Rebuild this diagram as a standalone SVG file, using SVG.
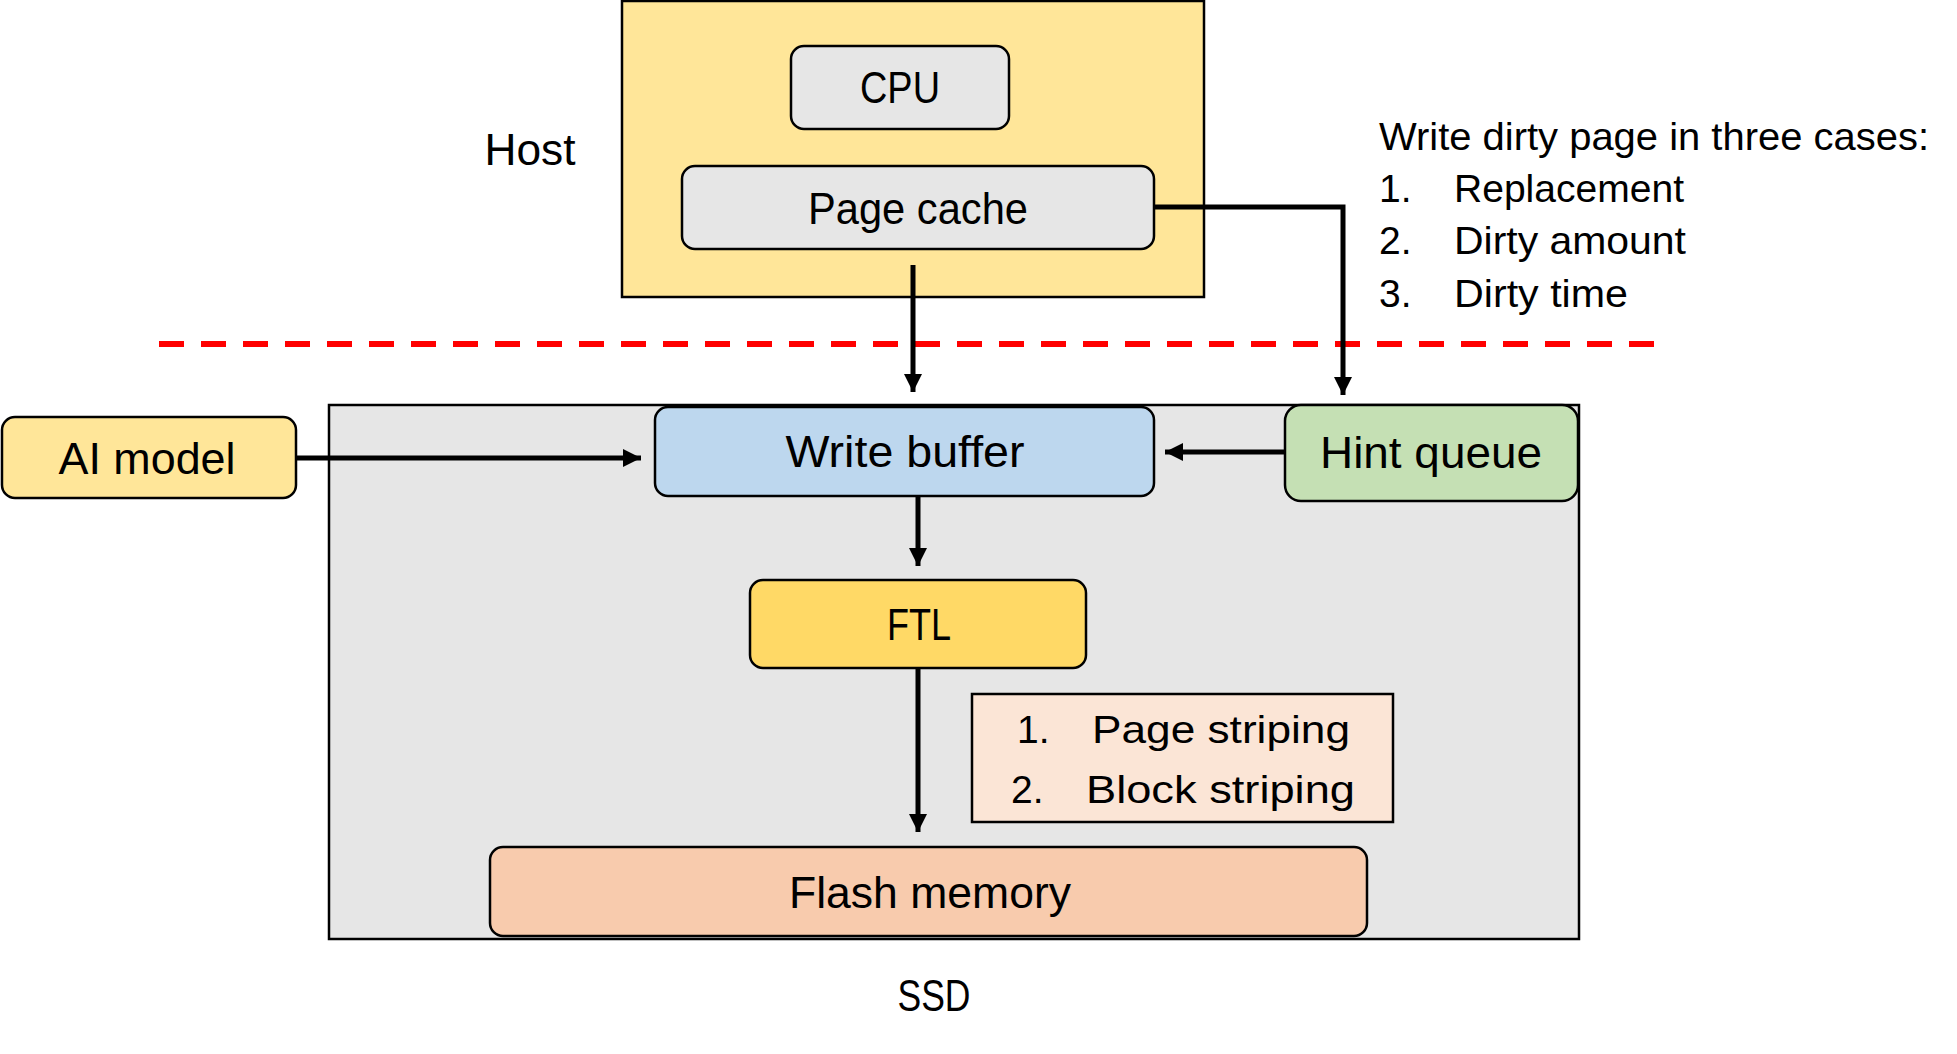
<svg xmlns="http://www.w3.org/2000/svg" width="1957" height="1054" viewBox="0 0 1957 1054">
<style>
text{font-family:"Liberation Sans",Arial,sans-serif;fill:#000;}
.box{stroke:#000;stroke-width:2.5;}
.lbl{font-size:44px;text-anchor:middle;}
.note{font-size:39px;}
.conn{stroke:#000;stroke-width:5;fill:none;}
</style>
<defs>
<marker id="arr" viewBox="0 0 18 18" refX="18" refY="9" markerWidth="18" markerHeight="18" markerUnits="userSpaceOnUse" orient="auto">
<path d="M0,0 L18,9 L0,18 z" fill="#000"/>
</marker>
</defs>
<rect width="1957" height="1054" fill="#fff"/>

<g id="host">
<rect class="box" x="622" y="1" width="582" height="296" fill="#FFE699"/>
<text class="lbl" x="530" y="165" textLength="91" lengthAdjust="spacingAndGlyphs">Host</text>
</g>
<g id="cpu">
<rect class="box" x="791" y="46" width="218" height="83" rx="13" fill="#E6E6E6"/>
<text class="lbl" x="900" y="103" font-size="46" textLength="80" lengthAdjust="spacingAndGlyphs">CPU</text>
</g>
<g id="page-cache">
<rect class="box" x="682" y="166" width="472" height="83" rx="13" fill="#E6E6E6"/>
<text class="lbl" x="918" y="224" textLength="220" lengthAdjust="spacingAndGlyphs">Page cache</text>
</g>
<g id="note-dirty">
<text class="note" x="1379" y="150" textLength="550" lengthAdjust="spacingAndGlyphs">Write dirty page in three cases:</text>
<text class="note" x="1379" y="202">1.</text>
<text class="note" x="1454" y="202" textLength="230" lengthAdjust="spacingAndGlyphs">Replacement</text>
<text class="note" x="1379" y="254">2.</text>
<text class="note" x="1454" y="254" textLength="232" lengthAdjust="spacingAndGlyphs">Dirty amount</text>
<text class="note" x="1379" y="307">3.</text>
<text class="note" x="1454" y="307" textLength="174" lengthAdjust="spacingAndGlyphs">Dirty time</text>
</g>
<g id="boundary">
<line x1="159" y1="344" x2="1654" y2="344" stroke="#FF0000" stroke-width="6" stroke-dasharray="25 17"/>
</g>
<g id="ssd">
<rect class="box" x="329" y="405" width="1250" height="534" fill="#E6E6E6"/>
<text class="lbl" x="934" y="1011" textLength="73" lengthAdjust="spacingAndGlyphs">SSD</text>
</g>
<g id="ai-model">
<rect class="box" x="2" y="417" width="294" height="81" rx="13" fill="#FFE699"/>
<text class="lbl" x="147" y="474" font-size="46" textLength="177" lengthAdjust="spacingAndGlyphs">AI model</text>
</g>
<g id="write-buffer">
<rect class="box" x="655" y="407" width="499" height="89" rx="13" fill="#BDD7EE"/>
<text class="lbl" x="905" y="467" font-size="46" textLength="239" lengthAdjust="spacingAndGlyphs">Write buffer</text>
</g>
<g id="hint-queue">
<rect class="box" x="1285" y="405" width="293" height="96" rx="16" fill="#C5E0B4"/>
<text class="lbl" x="1431" y="468" font-size="46" textLength="222" lengthAdjust="spacingAndGlyphs">Hint queue</text>
</g>
<g id="ftl">
<rect class="box" x="750" y="580" width="336" height="88" rx="13" fill="#FFD966"/>
<text class="lbl" x="919" y="640" textLength="64" lengthAdjust="spacingAndGlyphs">FTL</text>
</g>
<g id="striping">
<rect class="box" x="972" y="694" width="421" height="128" fill="#FBE5D6"/>
<text class="note" x="1017" y="743" font-size="42">1.</text>
<text class="note" x="1092" y="743" font-size="42" textLength="258" lengthAdjust="spacingAndGlyphs">Page striping</text>
<text class="note" x="1011" y="803" font-size="42">2.</text>
<text class="note" x="1086" y="803" font-size="42" textLength="269" lengthAdjust="spacingAndGlyphs">Block striping</text>
</g>
<g id="flash">
<rect class="box" x="490" y="847" width="877" height="89" rx="13" fill="#F8CBAD"/>
<text class="lbl" x="930" y="908" textLength="282" lengthAdjust="spacingAndGlyphs">Flash memory</text>
</g>

<g id="connectors">
<line class="conn" x1="913" y1="265" x2="913" y2="392" marker-end="url(#arr)"/>
<polyline class="conn" points="1154,207 1343,207 1343,395" marker-end="url(#arr)"/>
<line class="conn" x1="296" y1="458" x2="641" y2="458" marker-end="url(#arr)"/>
<line class="conn" x1="1285" y1="452" x2="1165" y2="452" marker-end="url(#arr)"/>
<line class="conn" x1="918" y1="496" x2="918" y2="566" marker-end="url(#arr)"/>
<line class="conn" x1="918" y1="668" x2="918" y2="832" marker-end="url(#arr)"/>
</g>
</svg>
